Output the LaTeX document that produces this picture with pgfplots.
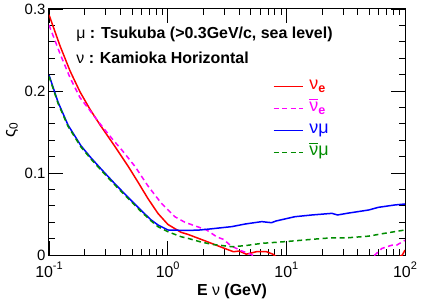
\documentclass[border=0pt]{standalone}
\usepackage{pgfplots}
\pgfplotsset{compat=1.18}
\usepackage{fontspec}
\setmainfont{Liberation Sans}
\definecolor{cred}{RGB}{255,0,0}
\definecolor{cmag}{RGB}{255,0,255}
\definecolor{cblue}{RGB}{0,0,255}
\definecolor{cgreen}{RGB}{0,140,0}
\newcommand{\sx}[1]{10\raisebox{1.0ex}{\fontsize{11}{11}\selectfont #1}}
\newcommand{\obar}{\makebox[0pt][l]{\rule[11.5bp]{9bp}{0.9pt}}}
\begin{document}
\begin{tikzpicture}
\begin{axis}[
  at={(0,0)}, anchor=south west,
  scale only axis, width=356bp, height=246bp,
  xmode=log, xmin=0.1, xmax=100, ymin=0, ymax=0.3,
  xtick={0.1,1,10,100},
  xticklabels={{\sx{-1}},{\sx{0}},{\sx{1}},{\sx{2}}},
  ytick={0,0.1,0.2,0.3}, yticklabels={0,0.1,0.2,0.3},
  minor y tick num=4,
  tick align=inside,
  major tick length=14bp, minor tick length=6bp,
  tick style={black, line width=0.8pt},
  axis line style={line width=1pt},
  xticklabel style={font=\fontsize{16}{16}\selectfont, yshift=-3bp},
  yticklabel style={font=\fontsize{15}{15}\selectfont},
  xlabel={\textbf{E} ν \textbf{(GeV)}},
  xlabel style={font=\fontsize{16}{16}\selectfont, at={(axis description cs:0.514,0)}, anchor=base, yshift=-40bp},
  ylabel={ς\textsubscript{0}},
  ylabel style={font=\fontsize{17}{17}\selectfont, at={(axis description cs:-0.104,0.508)}, anchor=center},
  legend style={draw=none, fill=none, at={(0.62,0.74)}, anchor=north west, font=\fontsize{18}{18}\selectfont, row sep=1.5bp,
    nodes={text height=12.5bp, text depth=4bp}, /tikz/every odd column/.append style={column sep=4bp}},
  legend cell align=left,
  legend image code/.code={\draw[#1] (0bp,-1bp) -- (29bp,-1bp);},
]
\addplot[cred, no marks, line width=1.5bp] coordinates {
(0.1,0.293) (0.1238,0.2551) (0.1503,0.2246) (0.1824,0.1990) (0.2215,0.1777) (0.2689,0.1588) (0.3597,0.1323) (0.4632,0.1085) (0.5617,0.0890) (0.6816,0.0689) (0.8294,0.0506) (1.006,0.0372) (1.294,0.0277) (1.485,0.0251) (2.13,0.0165) (2.96,0.0085) (3.58,0.004) (4.0,0.0048) (4.6,0.001) (5.6,0.004) (6.8,0.004) (7.7,0.001) (8.5,-0.004) (85,-0.004) (95,0.0) (100,0.006)
};
\addlegendentry{\textcolor{cred}{ν\textsubscript{\textbf{e}}}}
\addplot[cmag, no marks, line width=1.5bp, dash pattern=on 5bp off 3.5bp] coordinates {
(0.1,0.2805) (0.1238,0.2456) (0.1503,0.2163) (0.1824,0.1920) (0.2215,0.1761) (0.2689,0.1602) (0.3392,0.1420) (0.4118,0.1279) (0.5305,0.1080) (0.6816,0.0843) (0.8776,0.0637) (1.152,0.0466) (1.398,0.0399) (2.13,0.0305) (2.6,0.022) (2.96,0.0190) (3.3,0.013) (3.55,0.010) (4.2,0.005) (5.0,0.001) (5.8,-0.004) (50,-0.004) (55.7,0.0) (63.8,0.008) (77.6,0.012) (85,0.012) (100,0.018)
};
\addlegendentry{\textcolor{cmag}{\obar ν\textsubscript{\textbf{e}}}}
\addplot[cblue, no marks, line width=1.5bp] coordinates {
(0.1,0.2195) (0.1191,0.1866) (0.1446,0.1585) (0.1860,0.1332) (0.2258,0.1185) (0.2740,0.1051) (0.3597,0.0867) (0.4632,0.0705) (0.5953,0.0546) (0.7223,0.0430) (0.8294,0.0366) (1.006,0.0305) (1.485,0.0299) (1.87,0.0305) (2.36,0.032) (3.47,0.0346) (4.5,0.0378) (6.2,0.0407) (7.5,0.0394) (8.2,0.0415) (11.8,0.0467) (16.4,0.0488) (24.2,0.0508) (27,0.0488) (33,0.051) (49.5,0.0549) (59.5,0.0581) (82,0.061) (100,0.0622)
};
\addlegendentry{\textcolor{cblue}{νμ}}
\addplot[cgreen, no marks, line width=1.5bp, dash pattern=on 5bp off 3.5bp] coordinates {
(0.1,0.2178) (0.1191,0.1850) (0.1446,0.1570) (0.1860,0.1317) (0.2258,0.1170) (0.2740,0.1036) (0.3597,0.0852) (0.4632,0.0690) (0.5953,0.0532) (0.7223,0.0418) (0.8294,0.0345) (1.006,0.0284) (1.294,0.0223) (1.485,0.0203) (1.87,0.0162) (2.36,0.013) (3.47,0.0101) (4.5,0.0114) (6.2,0.0142) (9.8,0.0163) (16.4,0.0191) (24.2,0.021) (33,0.021) (49.5,0.023) (67,0.0264) (100,0.0305)
};
\addlegendentry{\textcolor{cgreen}{\obar νμ}}
\node[anchor=base west, font=\fontsize{16}{16}\selectfont] at (rel axis cs:0.067,0.881) {μ \textbf{: Tsukuba (>0.3GeV/c, sea level)}};
\node[anchor=base west, font=\fontsize{16}{16}\selectfont] at (rel axis cs:0.067,0.780) {ν \textbf{: Kamioka Horizontal}};
\end{axis}
\pgfresetboundingbox
\path (-49bp,-45bp) rectangle (374bp,255bp);
\end{tikzpicture}
\end{document}
